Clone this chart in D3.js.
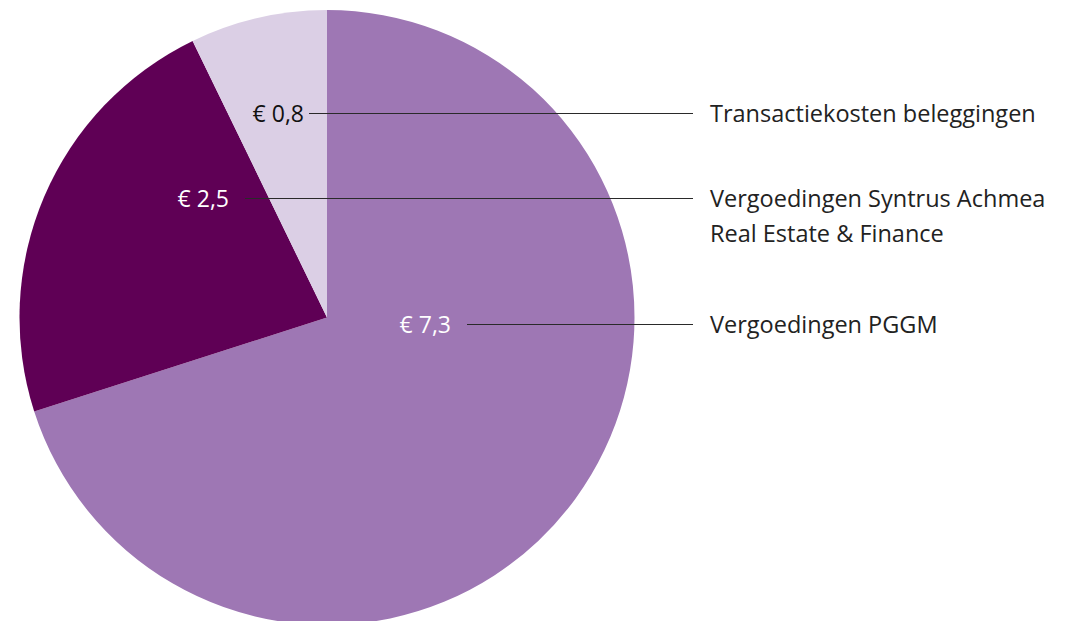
<!DOCTYPE html>
<html>
<head>
<meta charset="utf-8">
<script src="https://cdn.jsdelivr.net/npm/d3@7"></script>
<style>
  body { margin: 0; background: #fff; }
  svg text { font-family: "Open Sans", "DejaVu Sans", sans-serif; }
</style>
</head>
<body>
<div id="chart"></div>
<script>
var categories = ["Vergoedingen PGGM", "Vergoedingen Syntrus Achmea Real Estate & Finance", "Transactiekosten beleggingen"];
// slice sizes (printed labels are rounded)
var values = [7.3, 2.37, 0.75];
var valueLabels = ["€ 7,3", "€ 2,5", "€ 0,8"];
var legendLines = [["Vergoedingen PGGM"], ["Vergoedingen Syntrus Achmea", "Real Estate & Finance"], ["Transactiekosten beleggingen"]];
var colors = ["#9e77b4", "#5f0055", "#dbcfe5"];
var labelColors = ["#fff", "#fff", "#111"];

var width = 1070, height = 621;
var cx = 327, cy = 317.5, r = 307.5;

var svg = d3.select("#chart")
  .append("svg")
  .attr("width", width)
  .attr("height", height);

var pie = d3.pie().sort(null).value(function(d) { return d; });
var arcs = pie(values);
var arc = d3.arc().innerRadius(0).outerRadius(r);

var g = svg.append("g")
  .attr("transform", "translate(" + cx + "," + cy + ")");

g.selectAll("path")
  .data(arcs)
  .enter().append("path")
    .attr("d", arc)
    .attr("fill", function(d, i) { return colors[i]; });

// label positions (value text end x, leader y)
var labelY = [324, 198, 113];
var labelEnd = [451, 229, 304];
var lineEnd = 693;
var textX = 710;

labelY.forEach(function(y, i) {
  svg.append("line")
    .attr("x1", labelEnd[i] + (i === 2 ? 5 : 16))
    .attr("x2", lineEnd)
    .attr("y1", y + 0.5)
    .attr("y2", y + 0.5)
    .attr("stroke", "#2a2a2a")
    .attr("stroke-width", 1.1);

  svg.append("text")
    .attr("x", labelEnd[i])
    .attr("y", y + 8.5)
    .attr("text-anchor", "end")
    .attr("fill", labelColors[i])
    .style("font-size", "23px")
    .text(valueLabels[i]);

  var t = svg.append("text")
    .attr("x", textX)
    .attr("y", y + 8.5)
    .attr("fill", "#222")
    .style("font-size", "23.5px");
  legendLines[i].forEach(function(s, j) {
    t.append("tspan")
      .attr("x", textX)
      .attr("dy", j === 0 ? 0 : 35)
      .text(s);
  });
});
</script>
</body>
</html>
